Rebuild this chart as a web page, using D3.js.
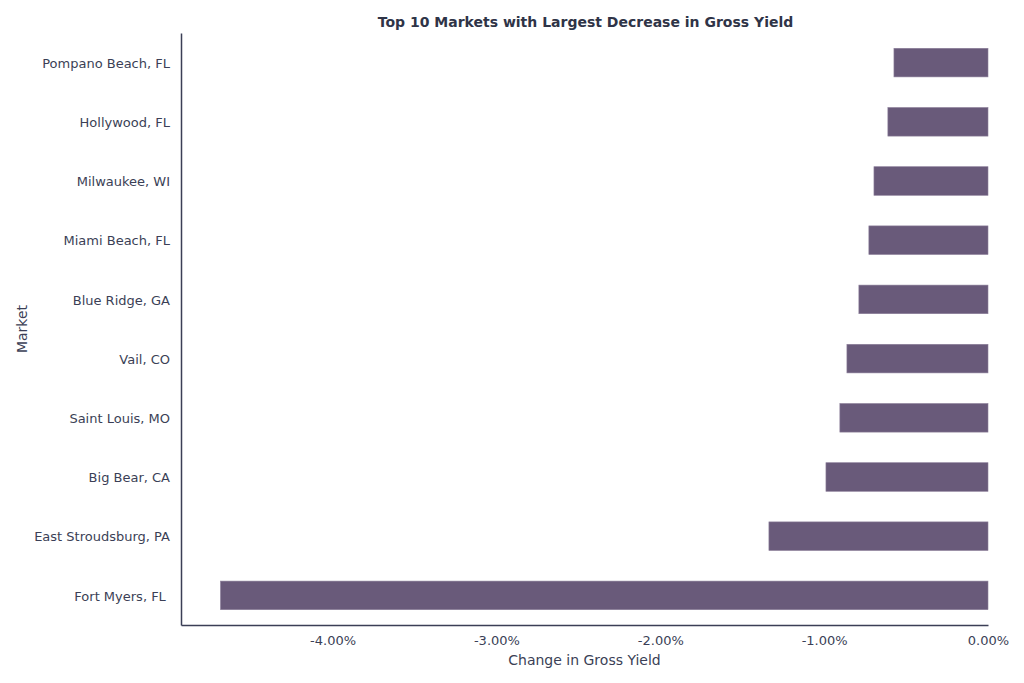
<!DOCTYPE html>
<html>
<head>
<meta charset="utf-8">
<script src="https://cdn.jsdelivr.net/npm/d3@7"></script>
<style>
  body { margin: 0; background: #fff; }
  svg, svg text { font-family: "DejaVu Sans", sans-serif; }
</style>
</head>
<body>
<svg id="chart" width="1024" height="683"></svg>
<script>
// markets top to bottom
const markets = ["Pompano Beach, FL", "Hollywood, FL", "Milwaukee, WI", "Miami Beach, FL",
  "Blue Ridge, GA", "Vail, CO", "Saint Louis, MO", "Big Bear, CA",
  "East Stroudsburg, PA", "Fort Myers, FL "];
const changes = [-0.574, -0.611, -0.696, -0.727, -0.788, -0.861, -0.904, -0.989, -1.337, -4.684];
const xTicks = [-4, -3, -2, -1, 0];

const textCol = "#3b3f56";
const barCol = "#695a7a";

const margin = {top: 33, right: 36, bottom: 58, left: 181};
const width = 1024, height = 683;

const svg = d3.select("#chart");

const x = d3.scaleLinear()
    .domain([-4.925, 0])
    .range([margin.left, width - margin.right]);

const y = d3.scaleBand()
    .domain(markets)
    .range([margin.top, height - margin.bottom])
    .paddingInner(0.5)
    .paddingOuter(0.25);

const data = markets.map((m, i) => ({market: m, value: changes[i]}));

svg.append("g").selectAll("rect")
    .data(data)
    .join("rect")
    .attr("x", d => x(d.value))
    .attr("y", d => y(d.market) + 0.5)
    .attr("width", d => x(0) - x(d.value))
    .attr("height", y.bandwidth() - 1)
    .attr("fill", barCol)
    .attr("stroke", "#8c7f9a")
    .attr("stroke-width", 0.6);

// x axis
const xAxis = svg.append("g")
    .attr("transform", `translate(0,${height - margin.bottom})`)
    .call(d3.axisBottom(x).tickValues(xTicks).tickSize(0).tickPadding(11)
        .tickFormat(d => d.toFixed(2) + "%"));
xAxis.attr("font-family", "DejaVu Sans");
xAxis.select(".domain").attr("stroke", textCol).attr("stroke-width", 1.5);
xAxis.selectAll("text").attr("fill", textCol).attr("font-size", 13);

// y axis
const yAxis = svg.append("g")
    .attr("transform", `translate(${margin.left},0)`)
    .call(d3.axisLeft(y).tickSize(0).tickPadding(11));
yAxis.attr("font-family", "DejaVu Sans");
yAxis.select(".domain").attr("stroke", textCol).attr("stroke-width", 1.5);
yAxis.selectAll("text")
    .attr("fill", textCol)
    .attr("font-size", 13)
    .attr("dy", "0.4em")
    .style("white-space", "pre");

svg.append("text")
    .attr("x", (margin.left + width - margin.right) / 2)
    .attr("y", 665)
    .attr("text-anchor", "middle")
    .attr("fill", textCol)
    .attr("font-size", 14)
    .text("Change in Gross Yield");

svg.append("text")
    .attr("transform", `translate(27,${(margin.top + height - margin.bottom) / 2}) rotate(-90)`)
    .attr("text-anchor", "middle")
    .attr("fill", textCol)
    .attr("font-size", 14)
    .text("Market");

svg.append("text")
    .attr("x", (margin.left + width - margin.right) / 2 + 1)
    .attr("y", 27)
    .attr("text-anchor", "middle")
    .attr("fill", "#2f3447")
    .attr("font-size", 14)
    .attr("font-weight", "bold")
    .text("Top 10 Markets with Largest Decrease in Gross Yield");
</script>
</body>
</html>
